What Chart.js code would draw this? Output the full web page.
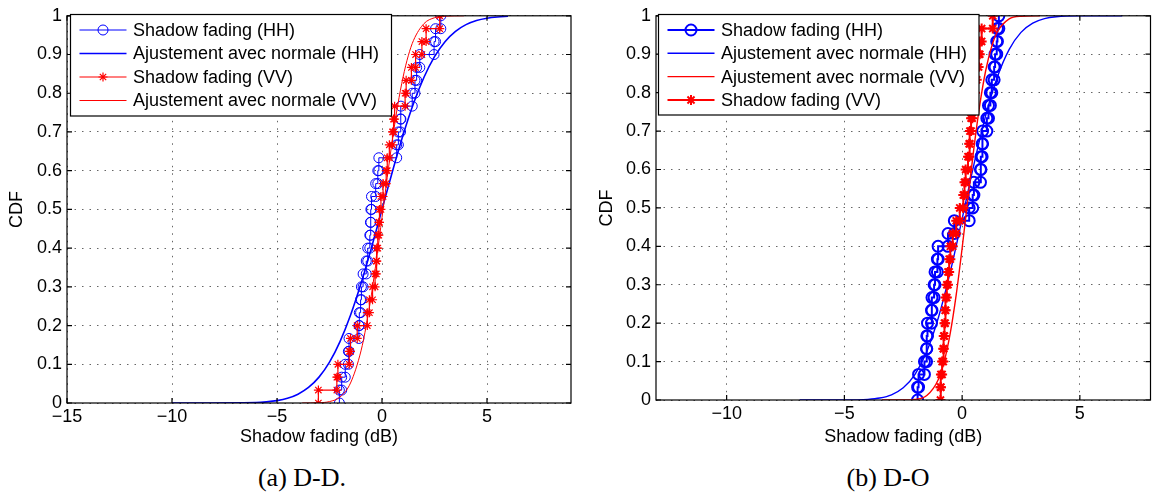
<!DOCTYPE html>
<html>
<head>
<meta charset="utf-8">
<script src="https://cdn.jsdelivr.net/npm/chart.js@4/dist/chart.umd.min.js"></script>
<style>
  body { margin: 0; background: #fff; width: 1158px; height: 495px; position: relative; overflow: hidden; }
  .wrap { position: absolute; top: 0; height: 455px; }
  #wrapA { left: 0; width: 580px; }
  #wrapB { left: 590px; width: 568px; }
  .caption { position: absolute; top: 462px; line-height: 31px; font-family: "Liberation Serif", "DejaVu Serif", serif; font-size: 26px; transform: translateX(-50%); white-space: nowrap; }
</style>
</head>
<body>
<div class="wrap" id="wrapA"><canvas id="chartA" width="580" height="455"></canvas></div>
<div class="wrap" id="wrapB"><canvas id="chartB" width="568" height="455"></canvas></div>
<div class="caption" style="left:302px">(a) D-D.</div>
<div class="caption" style="left:888px">(b) D-O</div>

<script>
// ---- data ----
// (a) D-D : sorted shadow fading samples, dB
const ddSamplesHH = [-2.03, -1.92, -1.75, -1.6, -1.57, -1.1, -1.08, -1.02, -0.98, -0.9,
    -0.75, -0.68, -0.58, -0.55, -0.53, -0.5, -0.3, -0.2, -0.15, 0.7,
    0.78, 0.88, 0.9, 1.44, 1.57, 1.65, 1.8, 2.48, 2.55, 2.8];
const ddSamplesVV = [-3.03, -2.15, -2.1, -1.56, -1.5, -1.18, -0.7, -0.6, -0.45, -0.33,
    -0.27, -0.25, -0.2, -0.15, -0.12, -0.05, 0.05, 0.2, 0.25, 0.35,
    0.5, 0.55, 0.6, 1.1, 1.15, 1.4, 1.6, 1.9, 2.1, 2.75];
// normal fit curves (x in dB, CDF)
const ddFitHHx = [-10, -6, -5.5, -5, -4.5, -4, -3.5, -3, -2.5, -2, -1.5, -1, -0.5, 0, 0.5, 1, 1.5, 2, 2.5, 3, 3.5, 4, 4.5, 5, 5.5, 6];
const ddFitHHy = [0, 0.0013, 0.003, 0.0062, 0.0122, 0.0228, 0.0401, 0.0668, 0.1056, 0.1587, 0.2266, 0.3085, 0.4013, 0.5,
    0.5987, 0.6915, 0.7734, 0.8413, 0.8944, 0.9332, 0.9599, 0.9772, 0.9878, 0.9938, 0.997, 0.9987];
const ddFitVVx = [-3.8, -3, -2.5, -2, -1.5, -1, -0.75, -0.5, -0.25, 0, 0.25, 0.5, 0.75, 1, 1.25, 1.5, 2, 2.5, 3, 3.9];
const ddFitVVy = [0, 0.0007, 0.0037, 0.0154, 0.0516, 0.1346, 0.2, 0.2813, 0.376, 0.479, 0.583, 0.682, 0.7695, 0.841, 0.8967, 0.9365, 0.9799, 0.995, 0.999, 1];

// (b) D-O
const doSamplesHH = [-1.89, -1.85, -1.6, -1.51, -1.5, -1.47, -1.3, -1.28, -1.19, -1.15,
    -1.05, -1.02, -0.6, -0.33, 0.3, 0.45, 0.5, 0.78, 0.8, 0.85,
    0.87, 1.05, 1.12, 1.2, 1.26, 1.36, 1.4, 1.47, 1.5, 1.56];
const doSamplesVV = [-0.92, -0.9, -0.85, -0.8, -0.78, -0.75, -0.72, -0.7, -0.65, -0.6,
    -0.55, -0.5, -0.4, -0.25, -0.1, 0.05, 0.1, 0.15, 0.25, 0.3,
    0.33, 0.38, 0.43, 0.5, 0.55, 0.62, 0.7, 0.75, 0.83, 1.3];
const doFitHHx = [-6.9, -5, -4, -3.5, -3, -2.5, -2, -1.5, -1, -0.5, 0, 0.5, 1, 1.5, 2, 2.5, 3, 3.5, 4, 5, 6.8];
const doFitHHy = [0, 0.0001, 0.0017, 0.0051, 0.0135, 0.0317, 0.0668, 0.1265, 0.216, 0.334, 0.4716,
    0.6125, 0.74, 0.8413, 0.9126, 0.9568, 0.9808, 0.9925, 0.9974, 0.9998, 1];
const doFitVVx = [-3.4, -2.5, -2, -1.5, -1, -0.75, -0.5, -0.25, 0, 0.25, 0.5, 0.75, 1, 1.25, 1.5, 2, 2.5, 3.3];
const doFitVVy = [0, 0.0002, 0.0017, 0.0116, 0.0548, 0.1026, 0.1753, 0.2743, 0.3949, 0.5266, 0.6554, 0.7683, 0.857, 0.9192, 0.9585, 0.9918, 0.9989, 1];

const yTicks = [0, 0.1, 0.2, 0.3, 0.4, 0.5, 0.6, 0.7, 0.8, 0.9, 1];
const xTicksA = [-15, -10, -5, 0, 5];
const xTicksB = [-10, -5, 0, 5];

const labelsA = ['Shadow fading (HH)', 'Ajustement avec normale (HH)', 'Shadow fading (VV)', 'Ajustement avec normale (VV)'];
const labelsB = ['Shadow fading (HH)', 'Ajustement avec normale (HH)', 'Ajustement avec normale (VV)', 'Shadow fading (VV)'];

// ---- helpers ----
const BLUE = '#0000ff', RED = '#ff0000';
const FONT = '"Liberation Sans", Arial, Helvetica, sans-serif';
const FSIZE = 18;

// empirical CDF drawn as stairs, a marker on every corner
function stairs(samples) {
    const n = samples.length, pts = [];
    samples.forEach((x, i) => {
        pts.push({ x: x, y: i / n });
        pts.push({ x: x, y: (i + 1) / n });
    });
    return pts;
}

function zip(xs, ys) {
    return xs.map((x, i) => ({ x: x, y: ys[i] }));
}

function fmtX(v) {
    return v < 0 ? '\u2212' + (-v) : String(v);
}

// MATLAB-like box with inward ticks on all four sides
const boxPlugin = {
    id: 'mbox',
    afterDatasetsDraw(chart) {
        const { ctx, chartArea: a, scales } = chart;
        const tl = 5;
        ctx.save();
        ctx.strokeStyle = '#000';
        ctx.lineWidth = 1.2;
        ctx.setLineDash([]);
        ctx.strokeRect(a.left, a.top, a.right - a.left, a.bottom - a.top);
        ctx.beginPath();
        scales.x.ticks.forEach(t => {
            const px = scales.x.getPixelForValue(t.value);
            ctx.moveTo(px, a.bottom); ctx.lineTo(px, a.bottom - tl);
            ctx.moveTo(px, a.top); ctx.lineTo(px, a.top + tl);
        });
        scales.y.ticks.forEach(t => {
            const py = scales.y.getPixelForValue(t.value);
            ctx.moveTo(a.left, py); ctx.lineTo(a.left + tl, py);
            ctx.moveTo(a.right, py); ctx.lineTo(a.right - tl, py);
        });
        ctx.stroke();
        ctx.restore();
    }
};

function drawMarker(ctx, style, x, y, r, color, lw) {
    ctx.strokeStyle = color;
    ctx.lineWidth = lw;
    ctx.beginPath();
    if (style === 'circle') {
        ctx.arc(x, y, r, 0, Math.PI * 2);
    } else if (style === 'star') {
        const d = r * Math.SQRT1_2;
        ctx.moveTo(x - r, y); ctx.lineTo(x + r, y);
        ctx.moveTo(x, y - r); ctx.lineTo(x, y + r);
        ctx.moveTo(x - d, y - d); ctx.lineTo(x + d, y + d);
        ctx.moveTo(x - d, y + d); ctx.lineTo(x + d, y - d);
    }
    ctx.stroke();
}

// boxed legend, top left inside the axes
const legendPlugin = {
    id: 'mlegend',
    afterDraw(chart, args, opts) {
        const ctx = chart.ctx;
        const [x0, y0, x1, y1] = opts.box;
        ctx.save();
        ctx.fillStyle = '#fff';
        ctx.fillRect(x0, y0, x1 - x0, y1 - y0);
        ctx.strokeStyle = '#000';
        ctx.lineWidth = 1.2;
        ctx.strokeRect(x0, y0, x1 - x0, y1 - y0);
        ctx.font = FSIZE + 'px ' + FONT;
        ctx.textBaseline = 'middle';
        chart.data.datasets.forEach((ds, i) => {
            const y = opts.rows[i];
            const lx0 = x0 + 9, lx1 = x0 + 56;
            ctx.strokeStyle = ds.borderColor;
            ctx.lineWidth = ds.borderWidth;
            ctx.beginPath();
            ctx.moveTo(lx0, y); ctx.lineTo(lx1, y);
            ctx.stroke();
            if (ds.pointRadius > 0) {
                drawMarker(ctx, ds.pointStyle, (lx0 + lx1) / 2, y, ds.pointRadius, ds.pointBorderColor, ds.pointBorderWidth);
            }
            ctx.fillStyle = '#000';
            ctx.fillText(ds.label, x0 + 62.5, y + 1);
        });
        ctx.restore();
    }
};

function sfSet(label, samples, color, style, r, lw, order) {
    return {
        label: label, data: stairs(samples), showLine: true,
        borderColor: color, borderWidth: lw,
        pointStyle: style, pointRadius: r, pointHoverRadius: r,
        pointBorderColor: color, pointBackgroundColor: 'rgba(0,0,0,0)', pointBorderWidth: lw,
        order: order
    };
}

function fitSet(label, xs, ys, color, lw, order) {
    return {
        label: label, data: zip(xs, ys), showLine: true,
        borderColor: color, borderWidth: lw, pointRadius: 0,
        cubicInterpolationMode: 'monotone', order: order
    };
}

function makeOptions(xmin, xmax, xTicks, yWidth, xHeight, pad, legendOpts) {
    const font = { family: FONT, size: FSIZE };
    return {
        responsive: false,
        animation: false,
        events: [],
        layout: { padding: pad },
        plugins: { legend: { display: false }, tooltip: { enabled: false }, mlegend: legendOpts },
        scales: {
            x: {
                type: 'linear', min: xmin, max: xmax,
                afterFit: s => { s.height = xHeight; },
                afterBuildTicks: s => { s.ticks = xTicks.map(v => ({ value: v })); },
                grid: { color: '#666', lineWidth: 1, drawTicks: false },
                border: { display: false, dash: [1.5, 6] },
                ticks: { callback: fmtX, color: '#000', padding: 3, maxRotation: 0, autoSkip: false, font: font },
                title: { display: true, text: 'Shadow fading (dB)', color: '#000', font: font, padding: { top: 0, bottom: 7 } }
            },
            y: {
                type: 'linear', min: 0, max: 1,
                afterFit: s => { s.width = yWidth; },
                afterBuildTicks: s => { s.ticks = yTicks.map(v => ({ value: v })); },
                grid: { color: '#666', lineWidth: 1, drawTicks: false },
                border: { display: false, dash: [1.5, 6] },
                ticks: { callback: v => String(Math.round(v * 10) / 10), color: '#000', padding: 5, autoSkip: false, font: font },
                title: { display: true, text: 'CDF', color: '#000', font: font, padding: { top: 6, bottom: 0 } }
            }
        }
    };
}

new Chart(document.getElementById('chartA'), {
    type: 'scatter',
    data: {
        datasets: [
            sfSet(labelsA[0], ddSamplesHH, BLUE, 'circle', 5, 1, 3),
            fitSet(labelsA[1], ddFitHHx, ddFitHHy, BLUE, 1.6, 2),
            sfSet(labelsA[2], ddSamplesVV, RED, 'star', 4.5, 1.2, 1),
            fitSet(labelsA[3], ddFitVVx, ddFitVVy, RED, 1, 0)
        ]
    },
    options: makeOptions(-15, 9, xTicksA, 67, 52, { left: 0, right: 9, top: 9, bottom: 0 },
        { box: [70.5, 14.5, 391.5, 116], rows: [30, 53.5, 77, 100.5] }),
    plugins: [boxPlugin, legendPlugin]
});

new Chart(document.getElementById('chartB'), {
    type: 'scatter',
    data: {
        datasets: [
            sfSet(labelsB[0], doSamplesHH, BLUE, 'circle', 5.5, 2, 3),
            fitSet(labelsB[1], doFitHHx, doFitHHy, BLUE, 1.4, 2),
            fitSet(labelsB[2], doFitVVx, doFitVVy, RED, 1.4, 1),
            sfSet(labelsB[3], doSamplesVV, RED, 'star', 5, 2, 0)
        ]
    },
    options: makeOptions(-13, 8, xTicksB, 66, 55, { left: 0, right: 1, top: 9, bottom: 0 },
        { box: [68.5, 14.5, 389, 115], rows: [30, 53.3, 76.6, 100] }),
    plugins: [boxPlugin, legendPlugin]
});
</script>
</body>
</html>
